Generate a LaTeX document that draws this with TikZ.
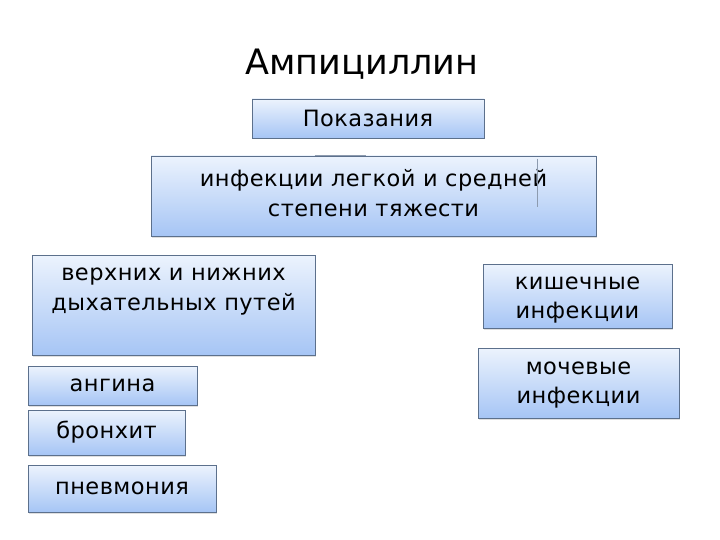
\documentclass[tikz,border=0pt]{standalone}
\usepackage{fontspec}
\setmainfont{DejaVu Sans}[LetterSpace=2]
\newfontfamily\titrefont{DejaVu Sans}
\usetikzlibrary{positioning,shadows}
\definecolor{haut}{RGB}{236,243,253}
\definecolor{bas}{RGB}{166,197,245}
\definecolor{bord}{RGB}{92,112,140}
\begin{document}
\begin{tikzpicture}[
      x=1pt, y=-1pt,
      cadre/.style={
        draw=bord,
        line width=0.8pt,
        top color=haut,
        bottom color=bas,
        drop shadow={opacity=0.25, shadow xshift=1pt, shadow yshift=-1.5pt},
        inner sep=0pt,
        align=center,
        font=\fontsize{22.5}{29}\selectfont
      },
      texte/.style={
        align=center,
        font=\fontsize{22.5}{29.5}\selectfont
      },
      trait/.style={
        draw=bord!70,
        line width=0.6pt
      }
    ]
    \useasboundingbox[fill=white] (0,0) rectangle (720,540);
    \node[font=\titrefont\fontsize{35}{40}\selectfont] (titre) at (362,64) {Ампициллин} ;
    \node[cadre, minimum width=232pt, minimum height=39pt] (indic) at (368,118.5) {Показания} ;
    \node[cadre, minimum width=445pt, minimum height=80pt] (degre) at (373.5,196) {} ;
    \node[texte] (degretxt) at (373.5,193) {инфекции легкой и средней\\степени тяжести} ;
    \node[cadre, minimum width=283pt, minimum height=100pt] (resp) at (173.5,305) {} ;
    \node[texte, anchor=north, below=10pt of resp.north] (resptxt) {верхних и нижних\\дыхательных путей} ;
    \node[cadre, minimum width=169pt, minimum height=39pt] (angine) at (112.5,385.5) {ангина} ;
    \node[cadre, minimum width=157pt, minimum height=45pt] (bronch) at (106.5,432.5) {бронхит} ;
    \node[cadre, minimum width=188pt, minimum height=47pt] (pneum) at (122,488.5) {пневмония} ;
    \node[cadre, minimum width=189pt, minimum height=64pt] (intest) at (577.5,296) {} ;
    \node[texte] (intesttxt) at (577.5,300) {кишечные\\инфекции} ;
    \node[cadre, minimum width=201pt, minimum height=70pt] (urin) at (578.5,383) {} ;
    \node[texte] (urintxt) at (578.5,385) {мочевые\\инфекции} ;
    % petits restes de liaisons
    \coordinate (tg) at ([xshift=-59pt]degre.north) ;
    \coordinate (td) at ([xshift=-8pt]degre.north) ;
    \draw[trait, line width=1.5pt] (tg) -- (td) ;
    \coordinate (vh) at ([xshift=164pt, yshift=-3pt]degre.north) ;
    \coordinate (vb) at ([xshift=164pt, yshift=-51pt]degre.north) ;
    \draw[trait] (vh) -- (vb) ;
  \end{tikzpicture}
\end{document}
